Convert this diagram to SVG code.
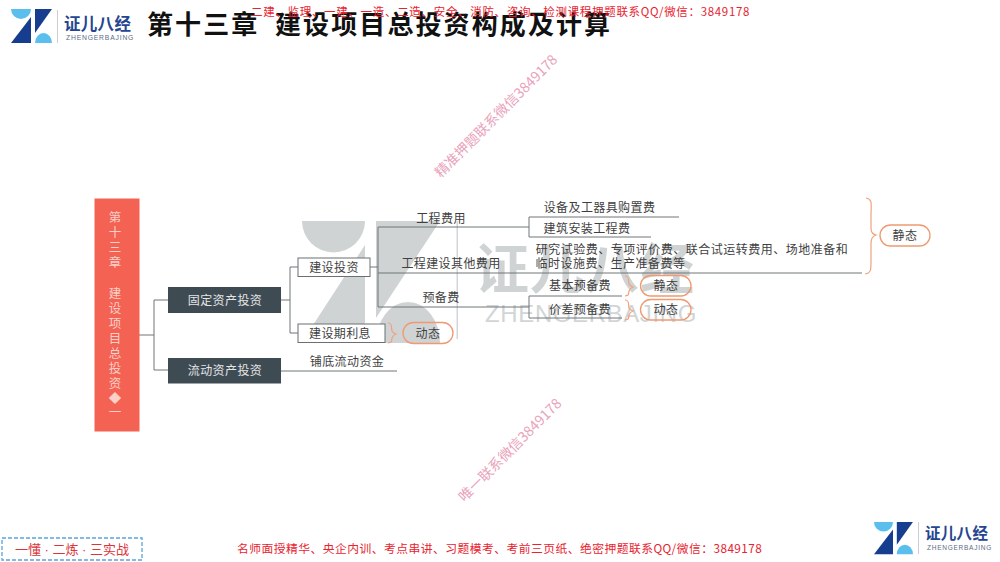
<svg xmlns="http://www.w3.org/2000/svg" width="1000" height="562" viewBox="0 0 1000 562">
<defs>
<style>
text{font-family:"Noto Sans CJK SC","Liberation Sans",sans-serif}
.t{font-size:12px;fill:#3f3f3f;text-anchor:middle;letter-spacing:.4px}
.w{font-size:12px;fill:#e4e6e7;text-anchor:middle;letter-spacing:.4px}
.v{font-size:12.5px;fill:#fbd0c8;text-anchor:middle}
.c{fill:none;stroke:#6f7678;stroke-width:1}
.o{fill:none;stroke:#f0a27c;stroke-width:1.2}
.p{fill:none;stroke:#ee9a72;stroke-width:1.3}
.b{fill:#fff;stroke:#6a7072;stroke-width:1}
.n{fill:#3f4b53}
.m{font-size:14px;fill:#e9a3bb;text-anchor:middle}
.r{fill:#e8232f}
.dk{fill:#173d8f}.lt{fill:#5bbfee}
</style>
<g id="lg"><path class="lt" d="M0 0H20A10 10 0 0 1 0 0Z"/><path class="dk" d="M20 8V34H0Z"/><path class="dk" d="M24 0H41L24 24Z"/><path class="lt" d="M24 34A8.500 10 0 0 1 41 34Z"/></g>
</defs>

<g id="bg-watermark">
<path d="M302 221H365A31.500 31.500 0 0 1 302 221Z" fill="#cfd3d4"/>
<path d="M365 245V342H302Z" fill="#cfd3d4"/>
<path d="M376 221H440L376 318Z" fill="#cfd3d4"/>
<path d="M376 343A32 41 0 0 1 440 343Z" fill="#cfd3d4"/>
<rect x="456.500" y="221" width="1.500" height="118" fill="#d3d6d7"/>
<text x="585" y="289" font-size="54" font-weight="700" fill="#cfd3d4" text-anchor="middle" letter-spacing="1">证儿八经</text>
<text x="591" y="322" font-size="24" fill="#d2d5d6" text-anchor="middle" style="font-family:'Liberation Sans',sans-serif" letter-spacing=".6">ZHENGERBAJING</text>
</g>

<g id="connectors">
<path class="c" d="M139 335H154M154 300V370M154 300H168M154 370H168"/>
<path class="c" d="M281 300H290M290 267V333M290 267H298M290 333H298"/>
<path class="c" d="M281 371H397"/>
<path class="c" d="M370 267H378M378 227V307M378 227H529M378 273H862M378 307H529"/>
<path class="c" d="M529 217V237M529 217H679M529 237H651"/>
<path class="c" d="M529 296V318M529 296H622M529 318H622"/>
</g>

<g id="root"><rect x="94.500" y="198.500" width="45" height="233" fill="#f46253"/>
<g class="v"><text x="115" y="222">第</text><text x="115" y="237">十</text><text x="115" y="252">三</text><text x="115" y="267">章</text><text x="115" y="298">建</text><text x="115" y="313">设</text><text x="115" y="328">项</text><text x="115" y="343">目</text><text x="115" y="358">总</text><text x="115" y="373">投</text><text x="115" y="388">资</text><text x="115" y="403">◆</text><text x="115" y="417">一</text></g></g>

<g id="n-fixed"><rect class="n" x="168" y="287" width="113" height="26"/><text class="w" x="225" y="304.500">固定资产投资</text></g>
<g id="n-current"><rect class="n" x="168" y="358" width="113" height="25.500"/><text class="w" x="225" y="375">流动资产投资</text></g>
<g id="n-invest"><rect class="b" x="298" y="258" width="72" height="18.500"/><text class="t" x="334" y="271.500">建设投资</text></g>
<g id="n-interest"><rect class="b" x="298" y="324" width="87" height="18.500"/><text class="t" x="340" y="337.500">建设期利息</text></g>
<g id="n-floor"><text class="t" x="347" y="366">铺底流动资金</text></g>
<g id="n-eng"><text class="t" x="441" y="222.500">工程费用</text></g>
<g id="n-other"><text class="t" x="451" y="268">工程建设其他费用</text></g>
<g id="n-reserve"><text class="t" x="441" y="302">预备费</text></g>
<g id="n-equip"><text class="t" x="599.500" y="212">设备及工器具购置费</text></g>
<g id="n-install"><text class="t" x="587" y="233">建筑安装工程费</text></g>
<g id="n-others-detail"><text class="t" x="692" y="253.500" style="letter-spacing:.5px">研究试验费、专项评价费、联合试运转费用、场地准备和</text><text class="t" x="610.500" y="268" style="letter-spacing:.5px">临时设施费、生产准备费等</text></g>
<g id="n-basic"><text class="t" x="580" y="290">基本预备费</text></g>
<g id="n-diff"><text class="t" x="580" y="314">价差预备费</text></g>

<g id="tag-static-1"><path class="o" d="M866 198C873 199 871 205 871 215V228C871 233 873 234 876 235C873 236 871 238 871 243V262C871 270 871 273 865 274"/><rect class="p" x="880" y="225" width="50" height="21" rx="10.500"/><text class="t" x="905" y="240">静态</text></g>
<g id="tag-static-2"><path class="o" d="M625 276C630 276 628 281 629 284Q630 286 633 287Q630 288 629 291C628 295 630 295 625 296"/><rect class="p" x="640.500" y="275.500" width="50.500" height="20.500" rx="10.250"/><text class="t" x="666" y="290">静态</text></g>
<g id="tag-dynamic-1"><path class="o" d="M625 300C630 300 628 305 629 308Q630 310 633 311Q630 312 629 315C628 319 630 319 625 320"/><rect class="p" x="640.500" y="299.500" width="50.500" height="20.500" rx="10.250"/><text class="t" x="666" y="314">动态</text></g>
<g id="tag-dynamic-2"><path class="o" d="M388 323C393 323 391 328 392 331Q393 333 396 334Q393 335 392 338C391 342 393 342 388 343"/><rect class="p" x="403" y="322.500" width="50" height="21" rx="10.500"/><text class="t" x="428" y="337.500">动态</text></g>

<g id="header">
<g transform="translate(11 9)"><use href="#lg"/></g>
<rect x="57" y="10" width="1" height="33" fill="#c9ced3"/>
<text x="64" y="30" font-size="16.500" font-weight="700" fill="#25458f" letter-spacing=".3">证儿八经</text>
<text x="66" y="40" font-size="6.800" fill="#5a6b85" letter-spacing=".8" style="font-family:'Liberation Sans',sans-serif">ZHENGERBAJING</text>
<text x="147" y="34" font-size="26" font-weight="700" fill="#111" letter-spacing="2.100">第十三章<tspan x="275">建设项目总投资构成及计算</tspan></text>
<text class="r" x="251" y="16" font-size="11.500" letter-spacing=".68">二建、监理、一建、一造、二造、安全、消防、咨询、检测课程押题联系QQ/微信：3849178</text>
</g>

<g id="watermarks">
<text class="m" transform="translate(496 116) rotate(-45)" y="5">精准押题联系微信3849178</text>
<text class="m" transform="translate(510 450) rotate(-45)" y="5">唯一联系微信3849178</text>
</g>

<g id="footer">
<rect x="2" y="538" width="140" height="22" fill="#fff" stroke="#5ba4dc" stroke-width="1.300" stroke-dasharray="4 2"/>
<text x="72" y="554" font-size="13" fill="#d9353b" text-anchor="middle" style="font-family:'Liberation Sans','Noto Sans CJK SC',sans-serif">一懂 · 二炼 · 三实战</text>
<text class="r" x="237" y="553" font-size="11.800" letter-spacing=".45">名师面授精华、央企内训、考点串讲、习题模考、考前三页纸、绝密押题联系QQ/微信：3849178</text>
<g transform="translate(874 522) scale(.95)"><use href="#lg"/></g>
<rect x="918" y="522" width="1" height="32" fill="#c9ced3"/>
<text x="925" y="539" font-size="15.500" font-weight="700" fill="#25458f" letter-spacing=".3">证儿八经</text>
<text x="927" y="550" font-size="6.500" fill="#5a6b85" letter-spacing=".75" style="font-family:'Liberation Sans',sans-serif">ZHENGERBAJING</text>
</g>
</svg>
